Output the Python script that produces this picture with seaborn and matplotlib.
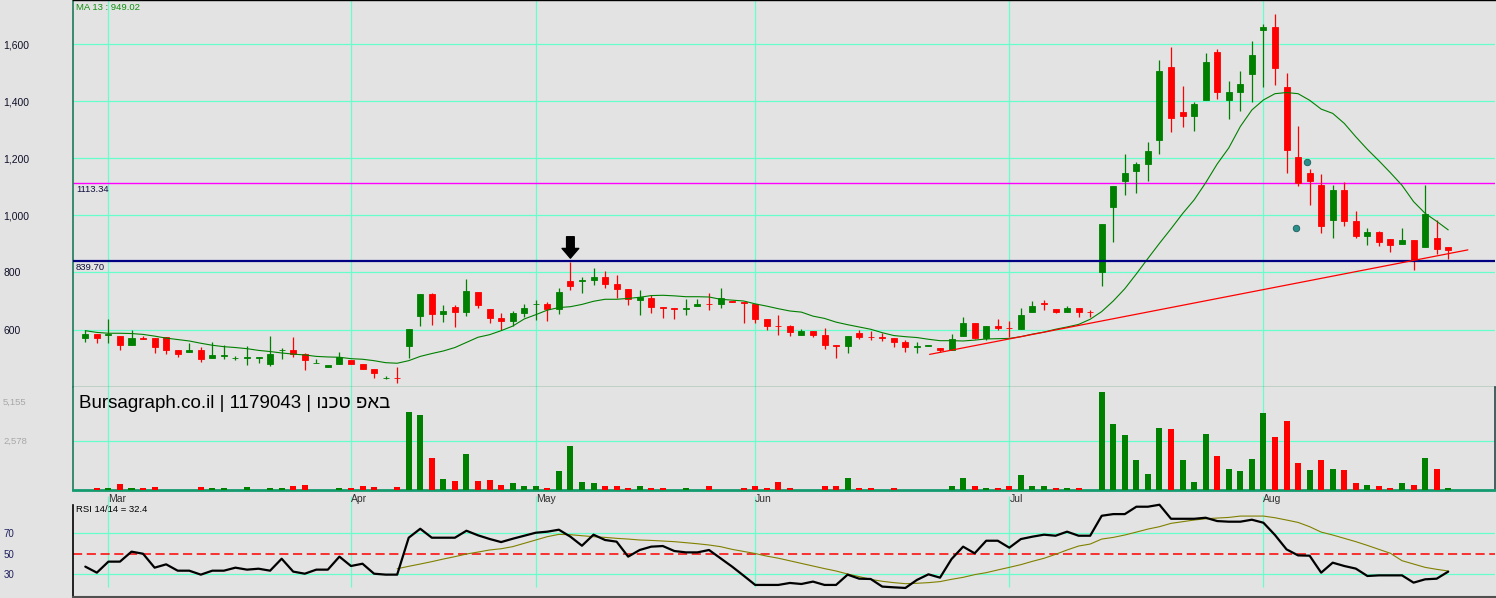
import numpy as np
import pandas as pd
import matplotlib
matplotlib.use("Agg")
import matplotlib.pyplot as plt
import matplotlib.transforms as mtransforms
import seaborn as sns

sns.set_theme(style="white")
plt.rcParams['font.family'] = ['Liberation Sans', 'DejaVu Sans']

BG = '#e3e3e3'
GRID = '#66ffcc'
UP = '#008000'
DOWN = '#ff0000'

# ---- values (one entry per trading day) ----
month_pos = [2, 23, 39, 58, 80, 102]
month_lbl = ['Mar', 'Apr', 'May', 'Jun', 'Jul', 'Aug']
price_ticks = [600, 800, 1000, 1200, 1400, 1600]

opens = [572, 584, 582, 577, 547, 570, 570, 573, 528, 520,
         528, 502, 509, 500, 502, 502, 480, 527, 528, 514,
         482, 468, 480, 493, 479, 462, 431, 432, 543, 647,
         724, 656, 679, 663, 731, 672, 640, 631, 659, 688,
         689, 673, 770, 769, 775, 784, 760, 742, 705, 711,
         678, 676, 671, 681, 690, 691, 699, 698, 688, 637,
         613, 612, 582, 595, 580, 545, 544, 588, 575, 573,
         572, 556, 539, 544, 535, 530, 579, 623, 572, 612,
         605, 603, 663, 694, 672, 663, 675, 663, 803, 1030,
         1121, 1156, 1181, 1265, 1519, 1362, 1349, 1405, 1572, 1405,
         1432, 1496, 1650, 1660, 1449, 1204, 1148, 1105, 985, 1089,
         980, 929, 940, 917, 901, 915, 890, 919, 889]
highs = [598, 585, 637, 578, 598, 576, 570, 575, 528, 553,
         538, 556, 545, 507, 542, 503, 577, 534, 574, 519,
         497, 476, 521, 493, 479, 462, 437, 469, 602, 725,
         729, 686, 685, 777, 731, 672, 659, 665, 689, 703,
         696, 745, 838, 783, 816, 805, 791, 742, 737, 720,
         678, 676, 707, 706, 728, 747, 699, 698, 688, 637,
         651, 617, 602, 595, 605, 545, 577, 598, 594, 587,
         572, 563, 558, 545, 535, 583, 644, 623, 612, 638,
         631, 675, 701, 703, 672, 682, 675, 668, 970, 1103,
         1215, 1186, 1257, 1544, 1590, 1453, 1398, 1568, 1583, 1470,
         1505, 1609, 1670, 1706, 1498, 1313, 1161, 1145, 1106, 1117,
         1016, 956, 946, 917, 956, 915, 1106, 984, 889]
lows = [558, 554, 554, 528, 547, 567, 519, 516, 505, 520,
        488, 502, 497, 495, 476, 484, 472, 498, 505, 460,
        482, 468, 480, 480, 463, 432, 426, 414, 499, 612,
        616, 626, 610, 647, 677, 624, 598, 612, 643, 633,
        631, 656, 740, 729, 757, 747, 712, 687, 652, 659,
        642, 637, 650, 681, 670, 675, 698, 624, 624, 600,
        582, 579, 582, 575, 531, 502, 517, 568, 565, 560,
        540, 523, 519, 544, 523, 530, 579, 566, 565, 598,
        575, 603, 663, 670, 657, 663, 645, 645, 754, 908,
        1072, 1079, 1120, 1216, 1293, 1311, 1297, 1405, 1407, 1338,
        1367, 1398, 1451, 1458, 1149, 1104, 1037, 939, 922, 964,
        922, 897, 894, 873, 901, 810, 890, 865, 848]
closes = [583, 572, 586, 547, 570, 567, 539, 530, 516, 528,
          498, 510, 511, 501, 503, 503, 514, 529, 514, 495,
          483, 476, 503, 480, 463, 447, 432, 431, 602, 725,
          654, 665, 661, 735, 687, 642, 631, 657, 675, 690,
          673, 731, 754, 773, 784, 761, 743, 706, 713, 680,
          677, 671, 676, 690, 689, 709, 698, 692, 638, 614,
          612, 593, 595, 582, 547, 544, 577, 575, 574, 572,
          558, 540, 541, 545, 530, 567, 623, 570, 612, 605,
          604, 651, 682, 688, 663, 675, 663, 662, 970, 1103,
          1148, 1180, 1225, 1505, 1342, 1349, 1390, 1537, 1433, 1432,
          1460, 1561, 1660, 1517, 1230, 1112, 1120, 964, 1089, 981,
          929, 942, 908, 897, 915, 844, 1005, 881, 880]
ma13 = [596, 590, 587, 587, 586, 583, 577, 570, 565, 560,
        552, 545, 540, 537, 533, 527, 523, 518, 514, 511,
        506, 504, 503, 498, 496, 491, 484, 482, 491, 506,
        516, 525, 537, 555, 573, 582, 596, 612, 637, 652,
        668, 677, 680, 688, 699, 706, 706, 709, 713, 719,
        720, 718, 715, 715, 714, 706, 703, 700, 690, 682,
        673, 665, 661, 647, 639, 626, 617, 609, 601, 589,
        579, 575, 572, 566, 561, 561, 560, 563, 567, 568,
        569, 575, 584, 591, 601, 609, 618, 636, 663, 700,
        743, 795, 849, 902, 953, 1006, 1054, 1114, 1180, 1236,
        1311, 1369, 1404, 1426, 1430, 1426, 1403, 1372, 1357, 1322,
        1275, 1231, 1191, 1149, 1105, 1048, 1007, 979, 949]
volume = [0, 88, 88, 281, 88, 88, 123, 0, 0, 0,
          123, 88, 88, 0, 123, 0, 88, 88, 175, 228,
          0, 0, 88, 88, 175, 123, 0, 123, 4069, 3929,
          1666, 544, 439, 1859, 430, 474, 263, 316, 158, 158,
          105, 1000, 2315, 421, 316, 210, 210, 105, 210, 53,
          53, 0, 53, 0, 210, 0, 0, 53, 158, 53,
          421, 53, 0, 0, 210, 210, 579, 105, 53, 0,
          53, 0, 0, 0, 0, 158, 579, 158, 105, 53,
          158, 789, 158, 158, 105, 53, 53, 0, 5155, 3473,
          2894, 1579, 842, 3262, 3210, 1579, 421, 2947, 1789, 1105,
          1000, 1631, 4052, 2789, 3631, 1421, 1052, 1579, 1105, 1052,
          316, 263, 210, 105, 316, 263, 1684, 1105, 53]
# u = volume bar drawn green, d = red
vol_dir = list("udududduuu" "duuuuuuudd" "uuuddduduu" "dududdduuu"
               "duuuudddud" "duuuduuddd" "dduudduddu" "duuuuuudud"
               "duuududuuu" "uuuuduuudu" "uuudddudud" "duddududu")
rsi = [37.4, 31.6, 42.2, 42.2, 51.8, 49.8, 36.4, 39.6, 33.5, 33.5,
       29.7, 33.5, 33.5, 36.4, 34.5, 35.4, 33.5, 45.0, 32.6, 30.6,
       34.5, 34.5, 47.0, 38.0, 40.2, 30.6, 29.7, 29.7, 65.2, 73.8,
       65.2, 65.2, 65.2, 71.9, 67.5, 64.0, 61.0, 64.2, 67.1, 70.0,
       71.0, 72.9, 66.2, 57.5, 68.1, 63.0, 61.4, 47.0, 53.4, 56.6,
       57.2, 52.4, 51.1, 51.1, 53.4, 45.4, 37.4, 28.7, 19.8, 19.8,
       19.8, 21.7, 20.7, 23.0, 19.8, 19.8, 29.7, 25.8, 25.5, 18.2,
       17.5, 16.9, 24.6, 30.0, 26.8, 44.7, 56.6, 50.2, 62.3, 62.3,
       55.6, 63.9, 66.2, 68.1, 67.1, 71.0, 67.1, 67.1, 86.3, 87.9,
       87.9, 95.0, 95.0, 96.9, 83.4, 83.4, 83.4, 84.4, 81.2, 80.6,
       80.6, 82.5, 79.6, 67.8, 54.0, 48.2, 47.9, 31.6, 41.2, 38.0,
       35.5, 28.4, 29.0, 29.0, 29.0, 22.0, 25.2, 25.8, 32.6]
sig_start = 27
rsi_signal = [35.4, 37.7, 39.9, 42.2, 44.7, 47.0, 49.5, 51.4, 53.4, 54.6,
              56.6, 59.8, 63.0, 66.2, 68.4, 68.1, 67.1, 66.2, 65.5, 64.6,
              63.9, 63.0, 62.6, 62.0, 61.4, 60.4, 59.4, 58.2, 56.6, 54.0,
              52.0, 50.0, 47.5, 45.5, 43.0, 40.5, 38.0, 35.5, 33.2, 30.3,
              27.8, 25.2, 23.3, 22.0, 21.0, 21.4, 22.0, 23.0, 25.2, 27.1,
              29.7, 31.6, 34.2, 36.7, 39.3, 42.5, 45.4, 49.2, 53.4, 57.2,
              59.1, 63.9, 65.5, 67.8, 70.6, 73.5, 75.8, 79.0, 80.6, 82.2,
              83.4, 84.1, 84.7, 86.0, 86.0, 86.0, 84.4, 82.2, 79.9, 75.8,
              70.6, 67.8, 64.6, 61.4, 57.8, 54.0, 50.2, 43.1, 39.9, 36.7,
              34.8, 33.2]

resist_level = 1113.34
support_level = 839.70
trend_x = [73.1, 119.7]
trend_y = [513, 879]
arrow_at, arrow_tip, arrow_tail = 42, 850, 925
event_x = [105.8, 104.8]
event_y = [1187, 957]
vol_ticks = [2578, 5155]
rsi_ticks = [30, 50, 70]
ma_last = 949.02
rsi_last = 32.4
# hebrew written in the glyph order the chart shows it
title = 'Bursagraph.co.il | 1179043 | ונכט פאב'

# ---- layout (pixel based, 1496 x 598) ----
W, H = 1496, 598
fig = plt.figure(figsize=(W / 100, H / 100), dpi=100, facecolor=BG)


def panel(top, bottom, left=73, right=1495):
    a = fig.add_axes([left / W, 1 - bottom / H, (right - left) / W, (bottom - top) / H])
    a.set_facecolor(BG)
    return a


ax = panel(0, 387)
axr = panel(496, 597)
axv = panel(387, 489.5)
axv.set_zorder(5)
XLIM = (-1.065, 122.05)

idx = np.arange(len(closes))
df = pd.DataFrame({'i': idx, 'open': opens, 'high': highs, 'low': lows,
                   'close': closes, 'ma': ma13})
cc = np.where(df['close'] >= df['open'], UP, DOWN)

# --- price panel: candles + MA 13 ---
ax.vlines(df['i'], df['low'], df['high'], colors=cc, lw=0.9, zorder=2)
ax.bar(df['i'], (df['close'] - df['open']).abs(),
       bottom=df[['open', 'close']].min(axis=1), width=0.52,
       color=cc, edgecolor=cc, linewidth=0.6, zorder=3)
sns.lineplot(data=df, x='i', y='ma', color=UP, lw=0.8, ax=ax, zorder=4)

ax.axhline(resist_level, color='#ff00ff', lw=1.0, zorder=1.5)
ax.axhline(support_level, color='#000080', lw=1.6, zorder=5)
ax.plot(trend_x, trend_y, color='red', lw=0.9, zorder=5)
ax.annotate('', xy=(arrow_at, arrow_tip), xytext=(arrow_at, arrow_tail),
            arrowprops=dict(facecolor='black', edgecolor='black', width=5.5,
                            headwidth=12, headlength=7, shrink=0), zorder=6)
ax.scatter(event_x, event_y, s=22, color='#2a8f8a', edgecolor='#1d5f5c',
           marker='o', lw=0.6, zorder=6)

for lvl in (resist_level, support_level):
    ax.annotate(f'{lvl:.2f}', xy=(0, lvl), xycoords=('axes fraction', 'data'),
                xytext=(3, -2), textcoords='offset pixels', va='top', ha='left',
                fontsize=6.8, color='#101040')

ax.set_xlim(*XLIM)
ax.set_ylim(398.8, 1754.1)
ax.set_xticks(month_pos)
ax.set_yticks(price_ticks)
ax.set_yticklabels([f'{v:,}' for v in price_ticks])
ax.grid(True, color=GRID, lw=0.9)
ax.set_axisbelow(True)
ax.tick_params(axis='x', length=0, labelbottom=False)
ax.tick_params(axis='y', length=0, pad=50.4, labelsize=7.5, labelcolor='#10102a')
plt.setp(ax.get_yticklabels(), ha='left')
ax.set_xlabel('')
ax.set_ylabel('')

# --- volume panel ---
vdf = pd.DataFrame({'i': idx, 'vol': volume, 'dir': vol_dir})
sns.barplot(data=vdf, x='i', y='vol', hue='dir', palette={'u': UP, 'd': DOWN},
            native_scale=True, width=0.52, errorbar=None, saturation=1,
            legend=False, ax=axv, zorder=3, linewidth=0)
axv.set_xlim(*XLIM)
axv.set_ylim(0, 5395)
axv.axhline(vol_ticks[0], color=GRID, lw=0.9, zorder=1)
axv.set_xticks(month_pos)
axv.set_xticklabels(month_lbl)
axv.grid(True, axis='x', color=GRID, lw=0.9)
axv.set_axisbelow(True)
axv.tick_params(axis='x', length=0, pad=3, labelsize=7.5, labelcolor='#303030')
plt.setp(axv.get_xticklabels(), ha='left')
axv.set_yticks(vol_ticks)
axv.set_yticklabels([f'{v:,}' for v in vol_ticks])
axv.tick_params(axis='y', length=0, pad=50.4, labelsize=6.8, labelcolor='#a8a8a8')
plt.setp(axv.get_yticklabels(), ha='left')
shift = mtransforms.ScaledTranslation(0, -10 / 100, fig.dpi_scale_trans)
top_lbl = axv.get_yticklabels()[1]
top_lbl.set_transform(top_lbl.get_transform() + shift)
axv.set_xlabel('')
axv.set_ylabel('')
axv.text(79 / W, 1 - 404 / H, title, transform=fig.transFigure, fontsize=13.5,
         color='black', ha='left', va='center', zorder=10)

# --- RSI panel ---
sns.lineplot(x=idx, y=rsi, color='black', lw=1.6, ax=axr, zorder=4)
sns.lineplot(x=idx[sig_start:], y=rsi_signal, color='#808000', lw=0.8, ax=axr, zorder=3)
axr.set_xlim(*XLIM)
axr.set_ylim(8.2, 105.3)
axr.axhline(50, color='red', lw=1.1, ls=(0, (6, 3)), zorder=2)
for v in (30, 70):
    axr.axhline(v, color=GRID, lw=0.9, zorder=1)
axr.vlines(month_pos, 17.8, 105.3, color=GRID, lw=0.9, zorder=1)
axr.set_xticks([])
axr.set_yticks(rsi_ticks)
axr.set_yticklabels([str(v) for v in rsi_ticks])
axr.tick_params(axis='y', length=0, pad=49.7, labelsize=7, labelcolor='#202060')
plt.setp(axr.get_yticklabels(), ha='left')
axr.set_xlabel('')
axr.set_ylabel('')

fig.text(76 / W, 1 - 7 / H, f'MA 13 : {ma_last:.2f}', fontsize=6.8,
         color='#109010', ha='left', va='center')
fig.text(76 / W, 1 - 509.5 / H, f'RSI 14/14 = {rsi_last}', fontsize=6.8,
         color='black', ha='left', va='center')

# --- borders ---
for a in (ax, axv, axr):
    for s in a.spines.values():
        s.set_visible(False)
ax.spines['left'].set_visible(True)
ax.spines['left'].set_color('#1f7a5c')
ax.spines['left'].set_linewidth(1.2)
ax.spines['top'].set_visible(True)
ax.spines['top'].set_color('black')
ax.spines['top'].set_linewidth(1.0)
ax.spines['bottom'].set_visible(True)
ax.spines['bottom'].set_color('#2e8b57')
ax.spines['bottom'].set_linewidth(1.0)
axv.spines['left'].set_visible(True)
axv.spines['left'].set_color('#1f7a5c')
axv.spines['left'].set_linewidth(1.2)
axv.spines['bottom'].set_visible(True)
axv.spines['bottom'].set_color('#139a6e')
axv.spines['bottom'].set_linewidth(2.0)
axv.spines['right'].set_visible(True)
axv.spines['right'].set_color('#2f4f4f')
axr.spines['left'].set_visible(True)
axr.spines['left'].set_color('black')
axr.spines['left'].set_linewidth(1.2)
axr.spines['left'].set_bounds(8.2, 96.6)
axr.spines['bottom'].set_visible(True)
axr.spines['bottom'].set_color('#505050')
axr.spines['bottom'].set_linewidth(1.5)

fig.savefig('out.png', dpi=100, facecolor=BG)
